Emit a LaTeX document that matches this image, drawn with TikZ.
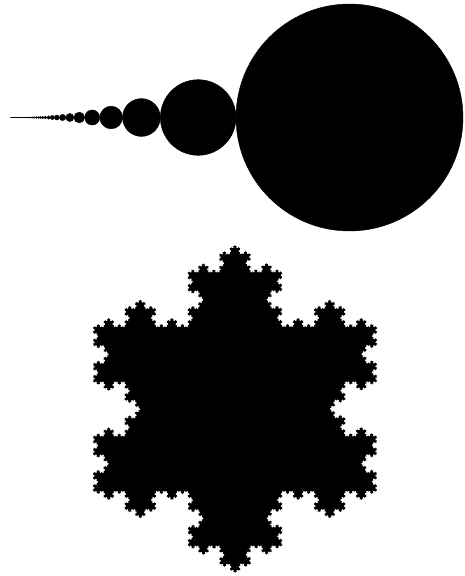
\documentclass[tikz,border=0pt]{standalone}
\usetikzlibrary{decorations.fractals}
\definecolor{ink}{HTML}{000000}
\tikzset{
  blob/.style={fill=ink,draw=ink,line width=0.4pt},
  flake/.style={fill=ink,decoration=Koch snowflake},
}
\begin{document}
\begin{tikzpicture}[x=1pt,y=-1pt]
  \useasboundingbox (0,0) rectangle (465,576);
  % chain of tangent disks, radii 2R/(n(n+1))
  \def\R{113.5}
  \foreach \n in {1,...,220} {
    \pgfmathsetmacro\rr{2*\R/\n/(\n+1)}
    \pgfmathsetmacro\cx{463-4*\R*(1-1/\n)-\rr}
    \path[blob] (\cx,117.5) circle[radius=\rr];
  }
  % snowflake
  \coordinate (t) at (235,245);
  \coordinate (br) at (377.03,491);
  \coordinate (bl) at (92.97,491);
  \path[flake] decorate{decorate{decorate{decorate{decorate{(t) -- (br) -- (bl) -- (t)}}}}};
\end{tikzpicture}
\end{document}
